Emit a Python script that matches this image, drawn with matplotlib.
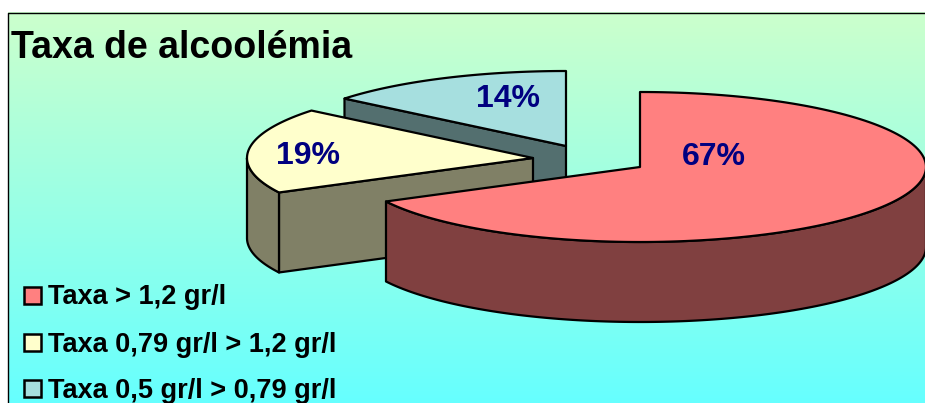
import numpy as np
import matplotlib
matplotlib.use("Agg")
import matplotlib.pyplot as plt
from matplotlib.colors import LinearSegmentedColormap
from matplotlib.patches import Polygon, Rectangle

title = "Taxa de alcoolémia"
categories = ["Taxa > 1,2 gr/l", "Taxa 0,79 gr/l > 1,2 gr/l", "Taxa 0,5 gr/l > 0,79 gr/l"]
values = [67.4, 18.5, 14.1]
labels = ["67%", "19%", "14%"]
top_colors = ["#FF8080", "#FFFFCC", "#A6DFDF"]
wall_colors = ["#804040", "#808066", "#536F6F"]

plt.rcParams["font.family"] = ["Liberation Sans", "DejaVu Sans"]
W, H = 925, 403
fig = plt.figure(figsize=(W / 100, H / 100), dpi=100, facecolor="white")
ax = fig.add_axes([0, 0, 1, 1])
ax.set_xlim(0, W)
ax.set_ylim(H, 0)
ax.axis("off")

cmap = LinearSegmentedColormap.from_list("bg", ["#CCFFCC", "#66FFFF"])
ax.imshow(np.linspace(0, 1, 256)[:, None], cmap=cmap, aspect="auto",
          extent=(7.5, W + 2, H, 12.5), zorder=0)
ax.set_xlim(0, W)
ax.set_ylim(H, 0)
ax.plot([7.5, 7.5, W + 2], [H + 2, 12.5, 12.5], color="black", lw=1.0, zorder=1)

RX, RY, DEPTH = 286, 75, 80
centers = [(640, 167), (533, 158), (566, 146)]
LW = 1.6


def pt(c, a, r=1.0):
    t = np.radians(a)
    return c[0] + r * RX * np.sin(t), c[1] - r * RY * np.cos(t)


def arc(c, a0, a1, dy=0):
    a = np.linspace(a0, a1, 160)
    x, y = pt(c, a)
    return np.column_stack([x, y + dy])


def poly(xy, fc, z):
    ax.add_patch(Polygon(xy, closed=True, fc=fc, ec="black", lw=LW, joinstyle="round", zorder=z))


total = sum(values)
edges = np.concatenate([[0], np.cumsum(values)]) / total * 360
label_xy = [(714, 157), (308, 156), (508, 99)]

for i in [2, 1, 0]:
    c = centers[i]
    a0, a1 = edges[i], edges[i + 1]
    z = 3 + (2 - i) * 3
    # cut face running from the centre to the edge at a0 that faces the viewer
    if i == 1:
        p = pt(c, a0)
        poly([c, p, (p[0], p[1] + DEPTH), (c[0], c[1] + DEPTH)], wall_colors[i], z)
    if i == 2:
        p = pt(c, a0)
        poly([p, c, (c[0], c[1] + DEPTH), (p[0], p[1] + DEPTH)], wall_colors[i], z)
    # outer rim on the front half of the ellipse
    lo, hi = max(a0, 90), min(a1, 270)
    if lo < hi:
        poly(np.vstack([arc(c, lo, hi), arc(c, hi, lo, DEPTH)]), wall_colors[i], z + 1)
    poly(np.vstack([[c], arc(c, a0, a1)]), top_colors[i], z + 2)
    ax.text(*label_xy[i], labels[i], color="#000080", fontsize=23, fontweight="bold",
            ha="center", va="center", zorder=20)

ax.text(11, 58, title, fontsize=27, fontweight="bold", color="black",
        ha="left", va="baseline", zorder=20)

for name, col, yc in zip(categories, top_colors, [295, 342, 388]):
    ax.add_patch(Rectangle((24, yc - 8.5), 17, 17, fc=col, ec="black", lw=1.8, zorder=20))
    ax.text(48, yc + 9.5, name, fontsize=19.5, fontweight="bold", color="black",
            ha="left", va="baseline", zorder=20)

fig.savefig("out.png", dpi=100, facecolor="white")
